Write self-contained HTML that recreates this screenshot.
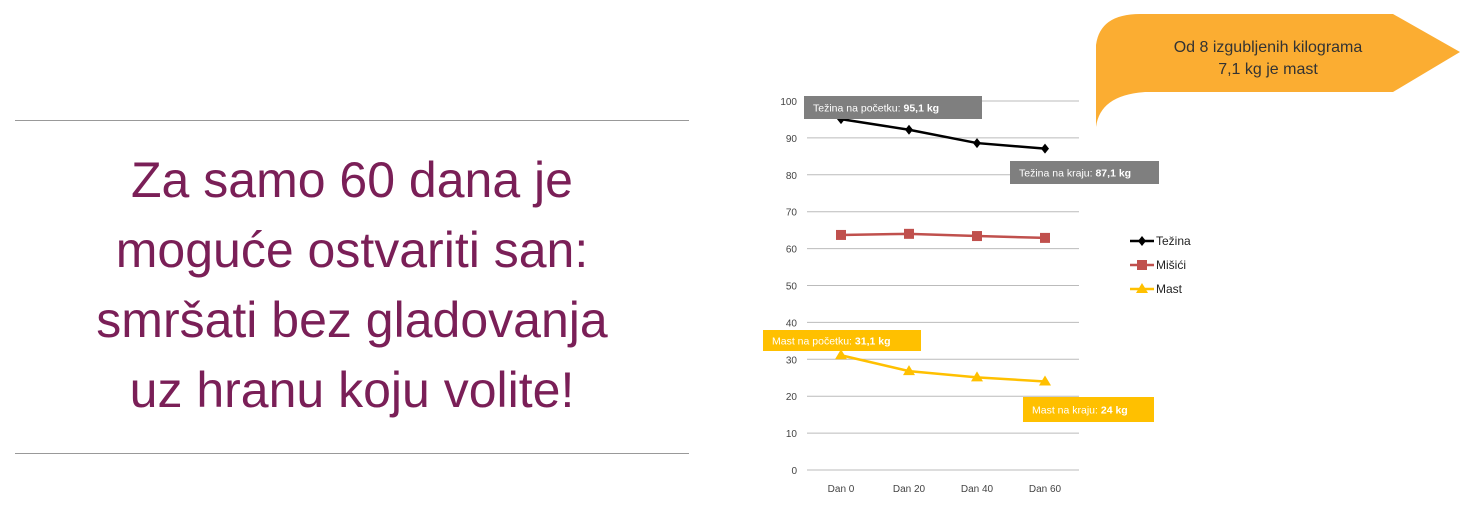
<!DOCTYPE html>
<html><head><meta charset="utf-8"><style>
body{margin:0;width:1473px;height:513px;background:#fff;overflow:hidden;font-family:"Liberation Sans",sans-serif}
.rule{position:absolute;left:15px;width:674px;height:1px;background:#999}
#head{position:absolute;left:15px;width:674px;top:145px;text-align:center;color:#7a1f57;font-size:50px;line-height:70px;font-weight:300}
</style></head><body>
<div class="rule" style="top:120px"></div>
<div class="rule" style="top:453px"></div>
<div id="head">Za samo 60 dana je<br>moguće ostvariti san:<br>smršati bez gladovanja<br>uz hranu koju volite!</div>
<svg width="1473" height="513" style="position:absolute;left:0;top:0">
<path d="M1096,127 L1096,45 Q1100,14 1140,14 L1393,14 L1460,52 L1393,92 L1145,92 Q1100,95 1096,127 Z" fill="#fbad32"/>
<text x="1268" y="52" text-anchor="middle" font-size="16" fill="#333">Od 8 izgubljenih kilograma</text>
<text x="1268" y="74" text-anchor="middle" font-size="16" fill="#333">7,1 kg je mast</text>
<g id="grid"></g><g id="series"></g><g id="labels"></g>
</svg>
<script>
const categories=["Dan 0","Dan 20","Dan 40","Dan 60"];
const tezina=[95.1,92.2,88.6,87.1];
const misici=[63.7,64.0,63.4,62.9];
const mast=[31.1,26.8,25.1,24.0];
const yTicks=[0,10,20,30,40,50,60,70,80,90,100];
const NS="http://www.w3.org/2000/svg";
const x0=807,x1=1079,yb=470,yt=101;
const X=i=>x0+(i+0.5)*(x1-x0)/categories.length;
const Y=v=>yb-(v/100)*(yb-yt);
function mk(t,a,p){const e=document.createElementNS(NS,t);for(const k in a)e.setAttribute(k,a[k]);p.appendChild(e);return e;}
const grid=document.getElementById('grid');
yTicks.forEach(v=>{
 const l=mk('line',{x1:x0,x2:x1,y1:Y(v),y2:Y(v),stroke:'#bbb','stroke-width':1},grid);
 
 
 const t=mk('text',{x:797,y:Y(v)+4,'text-anchor':'end','font-size':10,fill:'#444'},grid);
 t.textContent=v;
 
 
});
categories.forEach((c,i)=>{
 const t=mk('text',{x:X(i),y:492,'text-anchor':'middle','font-size':10,fill:'#444'},grid);
 t.textContent=c;
 
 
});
const S=document.getElementById('series');
function marker(type,x,y,col,g){
 if(type==='d') return mk('path',{d:`M${x},${y-5}L${x+4},${y}L${x},${y+5}L${x-4},${y}Z`,fill:col},g);
 if(type==='s') return mk('rect',{x:x-5,y:y-5,width:10,height:10,fill:col},g);
 return mk('path',{d:`M${x},${y-6}L${x+6},${y+4}L${x-6},${y+4}Z`,fill:col},g);
}
function series(vals,col,type,name){
 const g=mk('g',{},S);
 
 
 const pl=mk('polyline',{points:vals.map((v,i)=>X(i)+','+Y(v)).join(' '),fill:'none',stroke:col,'stroke-width':2.5},g);
 
 
 vals.forEach((v,i)=>{const m=marker(type,X(i),Y(v),col,g);
  
  });
}
series(tezina,'#000','d','tezina');
series(misici,'#c0504d','s','misici');
series(mast,'#ffc000','t','mast');
const leg=[['Težina','#000','d'],['Mišići','#c0504d','s'],['Mast','#ffc000','t']];
leg.forEach((e,i)=>{
 const y=241+i*24;
 const g=mk('g',{},S);
 
 
 mk('line',{x1:1130,x2:1154,y1:y,y2:y,stroke:e[1],'stroke-width':2.5},g);
 marker(e[2],1142,y,e[1],g);
 const t=mk('text',{x:1156,y:y+4,'font-size':12,fill:'#222'},g);t.textContent=e[0];
});
const L=document.getElementById('labels');
function lab(x,y,w,h,bg,a,b,name){
 const g=mk('g',{},L);
 
 
 mk('rect',{x,y,width:w,height:h,fill:bg},g);
 const t=mk('text',{x:x+9,y:y+h/2+4,'font-size':10.5,fill:'#fff'},g);
 t.innerHTML=a+'<tspan font-weight="bold">'+b+'</tspan>';
}
lab(804,96,178,23,'#7f7f7f','Težina na početku: ','95,1 kg','label-tezina-start');
lab(1010,161,149,23,'#7f7f7f','Težina na kraju: ','87,1 kg','label-tezina-end');
lab(763,330,158,21,'#ffc000','Mast na početku: ','31,1 kg','label-mast-start');
lab(1023,397,131,25,'#ffc000','Mast na kraju: ','24 kg','label-mast-end');
</script>
</body></html>
